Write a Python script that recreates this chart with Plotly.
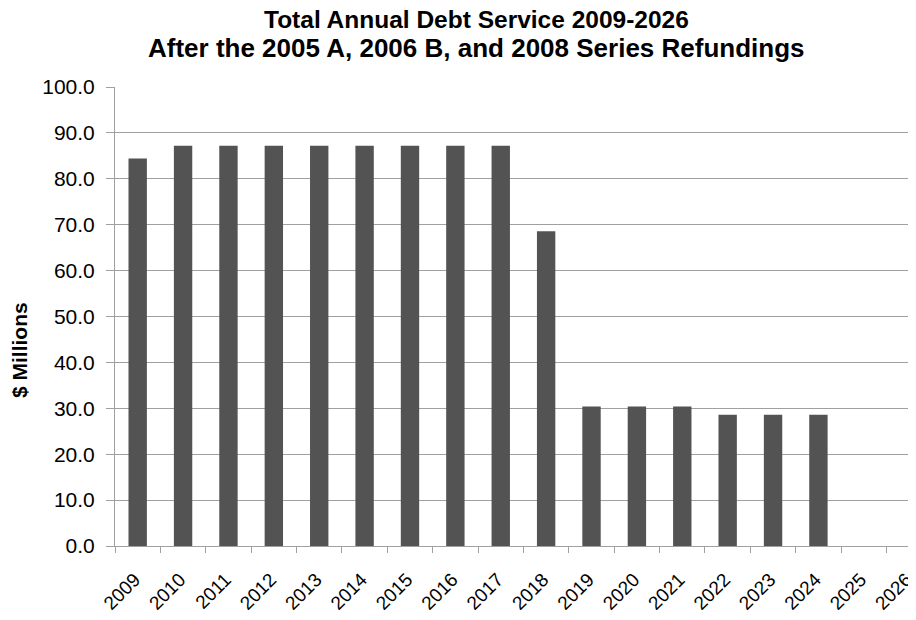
import plotly.graph_objects as go

years = [str(y) for y in range(2009, 2027)]
debt_service = [84.4, 87.2, 87.2, 87.2, 87.2, 87.2, 87.2, 87.2, 87.2, 68.6,
                30.4, 30.4, 30.4, 28.6, 28.6, 28.6, 0, 0]
y_ticks = [0, 10, 20, 30, 40, 50, 60, 70, 80, 90, 100]
title_lines = ["Total Annual Debt Service 2009-2026",
               "After the 2005 A, 2006 B, and 2008 Series Refundings"]
y_title = "$ Millions"

FONT = "Liberation Sans, Arial, sans-serif"
OFF = 8  # page body margin
W, H = 916 - OFF, 620 - OFF
L, R, T, B = 115 - OFF, 0, 87 - OFF, 620 - 546
PW, PH = W - L - R, H - T - B


def px_x(x):
    return (x - OFF - L) / PW


def px_y(y):
    return (H - B - (y - OFF)) / PH


fig = go.Figure(go.Bar(
    x=years, y=debt_service,
    marker=dict(color="#535353", line=dict(width=0)),
    hoverinfo="x+y",
))

fig.update_layout(
    width=W, height=H,
    margin=dict(l=L, r=R, t=T, b=B, autoexpand=False),
    plot_bgcolor="white", paper_bgcolor="white",
    bargap=0.595,
    showlegend=False,
    font=dict(family=FONT, color="#000000"),
)

fig.update_xaxes(
    type="category",
    range=[-0.5, 17.15],
    tickson="boundaries",
    ticks="outside", ticklen=6, tickcolor="#a0a0a0", tickwidth=1,
    showline=True, linecolor="#a0a0a0", linewidth=1,
    showgrid=False,
    tickangle=-45,
    automargin=False,
    ticklabelstandoff=14,
    ticklabelshift=-3,
    tickfont=dict(family=FONT, size=19, color="#000000"),
)

fig.update_yaxes(
    range=[0, 100],
    tickvals=y_ticks,
    tickformat=".1f",
    ticks="outside", ticklen=8, tickcolor="#a0a0a0", tickwidth=1,
    showline=True, linecolor="#a0a0a0", linewidth=1,
    showgrid=True, gridcolor="#a0a0a0", gridwidth=1,
    zeroline=False,
    automargin=False,
    tickfont=dict(family=FONT, size=21, color="#000000"),
    ticklabelstandoff=7,
)

for line, ypx, fs in zip(title_lines, [20, 48], [24.5, 26]):
    fig.add_annotation(
        text="<b>" + line + "</b>",
        xref="paper", yref="paper",
        x=px_x(476), y=px_y(ypx),
        xanchor="center", yanchor="middle", showarrow=False,
        borderpad=0,
        font=dict(family=FONT, size=fs, color="#000000"),
    )

fig.add_annotation(
    text="<b>" + y_title + "</b>", textangle=-90,
    xref="paper", yref="paper",
    x=px_x(19), y=px_y(350),
    xanchor="center", yanchor="middle", showarrow=False,
    font=dict(family=FONT, size=21, color="#000000"),
)

fig.write_html("out.html")
